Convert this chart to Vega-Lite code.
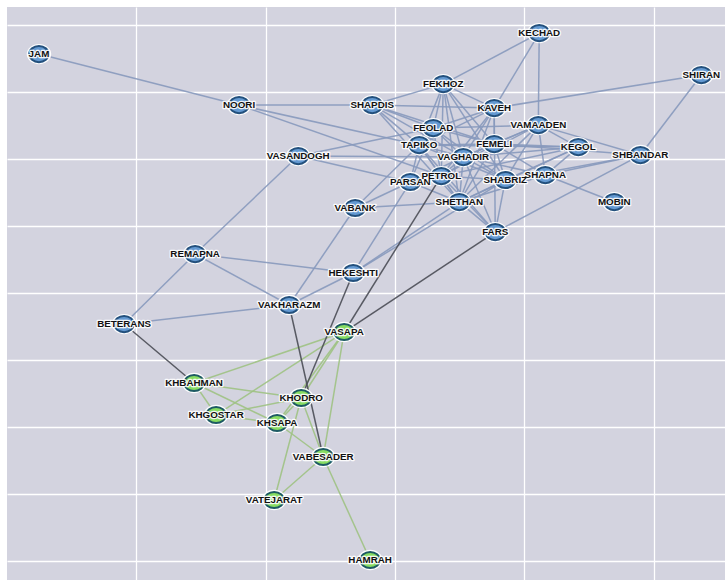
{
  "$schema": "https://vega.github.io/schema/vega-lite/v6.json",
  "width": 718,
  "height": 573,
  "autosize": "none",
  "padding": {"left": 7, "top": 7, "right": 0, "bottom": 0},
  "background": "white",
  "view": {"fill": "#d3d3df", "stroke": null},
  "datasets": {
    "nodes": [
      {"name": "JAM", "x": 0.247, "y": 7.567, "group": "A"},
      {"name": "NOORI", "x": 1.794, "y": 6.806, "group": "A"},
      {"name": "VASANDOGH", "x": 2.251, "y": 6.045, "group": "A"},
      {"name": "VABANK", "x": 2.691, "y": 5.269, "group": "A"},
      {"name": "REMAPNA", "x": 1.454, "y": 4.582, "group": "A"},
      {"name": "HEKESHTI", "x": 2.676, "y": 4.299, "group": "A"},
      {"name": "KECHAD", "x": 4.114, "y": 7.881, "group": "A"},
      {"name": "SHIRAN", "x": 5.367, "y": 7.254, "group": "A"},
      {"name": "FEKHOZ", "x": 3.372, "y": 7.119, "group": "A"},
      {"name": "SHAPDIS", "x": 2.823, "y": 6.806, "group": "A"},
      {"name": "KAVEH", "x": 3.766, "y": 6.761, "group": "A"},
      {"name": "FEOLAD", "x": 3.295, "y": 6.463, "group": "A"},
      {"name": "VAMAADEN", "x": 4.107, "y": 6.507, "group": "A"},
      {"name": "TAPIKO", "x": 3.186, "y": 6.209, "group": "A"},
      {"name": "FEMELI", "x": 3.766, "y": 6.224, "group": "A"},
      {"name": "KEGOL", "x": 4.416, "y": 6.179, "group": "A"},
      {"name": "SHBANDAR", "x": 4.896, "y": 6.06, "group": "A"},
      {"name": "VAGHADIR", "x": 3.527, "y": 6.03, "group": "A"},
      {"name": "PETROL", "x": 3.357, "y": 5.746, "group": "A"},
      {"name": "SHABRIZ", "x": 3.852, "y": 5.687, "group": "A"},
      {"name": "SHAPNA", "x": 4.161, "y": 5.761, "group": "A"},
      {"name": "PARSAN", "x": 3.117, "y": 5.657, "group": "A"},
      {"name": "MOBIN", "x": 4.694, "y": 5.358, "group": "A"},
      {"name": "SHETHAN", "x": 3.496, "y": 5.358, "group": "A"},
      {"name": "FARS", "x": 3.774, "y": 4.91, "group": "A"},
      {"name": "VAKHARAZM", "x": 2.181, "y": 3.821, "group": "A"},
      {"name": "BETERANS", "x": 0.905, "y": 3.537, "group": "A"},
      {"name": "VASAPA", "x": 2.606, "y": 3.418, "group": "B"},
      {"name": "KHBAHMAN", "x": 1.446, "y": 2.657, "group": "B"},
      {"name": "KHODRO", "x": 2.274, "y": 2.433, "group": "B"},
      {"name": "KHGOSTAR", "x": 1.616, "y": 2.179, "group": "B"},
      {"name": "KHSAPA", "x": 2.088, "y": 2.06, "group": "B"},
      {"name": "VABESADER", "x": 2.444, "y": 1.552, "group": "B"},
      {"name": "VATEJARAT", "x": 2.065, "y": 0.91, "group": "B"},
      {"name": "HAMRAH", "x": 2.807, "y": 0.015, "group": "B"}
    ],
    "edges": [
      {"s": "JAM", "t": "NOORI", "kind": "A"},
      {"s": "NOORI", "t": "SHAPDIS", "kind": "A"},
      {"s": "NOORI", "t": "TAPIKO", "kind": "A"},
      {"s": "NOORI", "t": "PETROL", "kind": "A"},
      {"s": "VASANDOGH", "t": "FEOLAD", "kind": "A"},
      {"s": "VASANDOGH", "t": "VAGHADIR", "kind": "A"},
      {"s": "VASANDOGH", "t": "PARSAN", "kind": "A"},
      {"s": "VASANDOGH", "t": "REMAPNA", "kind": "A"},
      {"s": "REMAPNA", "t": "HEKESHTI", "kind": "A"},
      {"s": "REMAPNA", "t": "VAKHARAZM", "kind": "A"},
      {"s": "REMAPNA", "t": "BETERANS", "kind": "A"},
      {"s": "BETERANS", "t": "VAKHARAZM", "kind": "A"},
      {"s": "VAKHARAZM", "t": "VABANK", "kind": "A"},
      {"s": "VAKHARAZM", "t": "HEKESHTI", "kind": "A"},
      {"s": "VABANK", "t": "PARSAN", "kind": "A"},
      {"s": "VABANK", "t": "SHETHAN", "kind": "A"},
      {"s": "VABANK", "t": "TAPIKO", "kind": "A"},
      {"s": "HEKESHTI", "t": "PARSAN", "kind": "A"},
      {"s": "HEKESHTI", "t": "SHETHAN", "kind": "A"},
      {"s": "HEKESHTI", "t": "SHABRIZ", "kind": "A"},
      {"s": "KECHAD", "t": "FEKHOZ", "kind": "A"},
      {"s": "KECHAD", "t": "KAVEH", "kind": "A"},
      {"s": "KECHAD", "t": "VAMAADEN", "kind": "A"},
      {"s": "SHIRAN", "t": "KAVEH", "kind": "A"},
      {"s": "SHIRAN", "t": "SHBANDAR", "kind": "A"},
      {"s": "SHAPDIS", "t": "FEKHOZ", "kind": "A"},
      {"s": "SHAPDIS", "t": "KAVEH", "kind": "A"},
      {"s": "SHAPDIS", "t": "FEOLAD", "kind": "A"},
      {"s": "SHAPDIS", "t": "TAPIKO", "kind": "A"},
      {"s": "SHAPDIS", "t": "VAGHADIR", "kind": "A"},
      {"s": "SHAPDIS", "t": "FEMELI", "kind": "A"},
      {"s": "SHAPDIS", "t": "SHETHAN", "kind": "A"},
      {"s": "FEKHOZ", "t": "KAVEH", "kind": "A"},
      {"s": "FEKHOZ", "t": "FEOLAD", "kind": "A"},
      {"s": "FEKHOZ", "t": "TAPIKO", "kind": "A"},
      {"s": "FEKHOZ", "t": "VAGHADIR", "kind": "A"},
      {"s": "FEKHOZ", "t": "PETROL", "kind": "A"},
      {"s": "FEKHOZ", "t": "FEMELI", "kind": "A"},
      {"s": "FEKHOZ", "t": "SHETHAN", "kind": "A"},
      {"s": "FEKHOZ", "t": "SHABRIZ", "kind": "A"},
      {"s": "KAVEH", "t": "FEOLAD", "kind": "A"},
      {"s": "KAVEH", "t": "TAPIKO", "kind": "A"},
      {"s": "KAVEH", "t": "VAGHADIR", "kind": "A"},
      {"s": "KAVEH", "t": "FEMELI", "kind": "A"},
      {"s": "KAVEH", "t": "PETROL", "kind": "A"},
      {"s": "KAVEH", "t": "SHETHAN", "kind": "A"},
      {"s": "KAVEH", "t": "FARS", "kind": "A"},
      {"s": "FEOLAD", "t": "TAPIKO", "kind": "A"},
      {"s": "FEOLAD", "t": "VAGHADIR", "kind": "A"},
      {"s": "FEOLAD", "t": "FEMELI", "kind": "A"},
      {"s": "FEOLAD", "t": "PETROL", "kind": "A"},
      {"s": "FEOLAD", "t": "SHABRIZ", "kind": "A"},
      {"s": "FEOLAD", "t": "VAMAADEN", "kind": "A"},
      {"s": "FEOLAD", "t": "PARSAN", "kind": "A"},
      {"s": "TAPIKO", "t": "VAGHADIR", "kind": "A"},
      {"s": "TAPIKO", "t": "PETROL", "kind": "A"},
      {"s": "TAPIKO", "t": "PARSAN", "kind": "A"},
      {"s": "TAPIKO", "t": "SHETHAN", "kind": "A"},
      {"s": "TAPIKO", "t": "FEMELI", "kind": "A"},
      {"s": "TAPIKO", "t": "KEGOL", "kind": "A"},
      {"s": "TAPIKO", "t": "SHABRIZ", "kind": "A"},
      {"s": "VAGHADIR", "t": "FEMELI", "kind": "A"},
      {"s": "VAGHADIR", "t": "PETROL", "kind": "A"},
      {"s": "VAGHADIR", "t": "SHABRIZ", "kind": "A"},
      {"s": "VAGHADIR", "t": "SHETHAN", "kind": "A"},
      {"s": "VAGHADIR", "t": "SHAPNA", "kind": "A"},
      {"s": "VAGHADIR", "t": "KEGOL", "kind": "A"},
      {"s": "VAGHADIR", "t": "FARS", "kind": "A"},
      {"s": "VAGHADIR", "t": "VAMAADEN", "kind": "A"},
      {"s": "VAGHADIR", "t": "PARSAN", "kind": "A"},
      {"s": "FEMELI", "t": "VAMAADEN", "kind": "A"},
      {"s": "FEMELI", "t": "KEGOL", "kind": "A"},
      {"s": "FEMELI", "t": "SHABRIZ", "kind": "A"},
      {"s": "FEMELI", "t": "PETROL", "kind": "A"},
      {"s": "FEMELI", "t": "SHETHAN", "kind": "A"},
      {"s": "FEMELI", "t": "SHAPNA", "kind": "A"},
      {"s": "VAMAADEN", "t": "KEGOL", "kind": "A"},
      {"s": "VAMAADEN", "t": "SHBANDAR", "kind": "A"},
      {"s": "VAMAADEN", "t": "SHAPNA", "kind": "A"},
      {"s": "VAMAADEN", "t": "SHABRIZ", "kind": "A"},
      {"s": "VAMAADEN", "t": "SHETHAN", "kind": "A"},
      {"s": "VAMAADEN", "t": "PETROL", "kind": "A"},
      {"s": "KEGOL", "t": "SHAPNA", "kind": "A"},
      {"s": "KEGOL", "t": "SHABRIZ", "kind": "A"},
      {"s": "KEGOL", "t": "SHETHAN", "kind": "A"},
      {"s": "KEGOL", "t": "PETROL", "kind": "A"},
      {"s": "SHBANDAR", "t": "SHAPNA", "kind": "A"},
      {"s": "SHBANDAR", "t": "SHABRIZ", "kind": "A"},
      {"s": "SHBANDAR", "t": "FARS", "kind": "A"},
      {"s": "SHBANDAR", "t": "FEMELI", "kind": "A"},
      {"s": "SHAPNA", "t": "MOBIN", "kind": "A"},
      {"s": "SHAPNA", "t": "SHABRIZ", "kind": "A"},
      {"s": "SHAPNA", "t": "SHETHAN", "kind": "A"},
      {"s": "PETROL", "t": "SHABRIZ", "kind": "A"},
      {"s": "PETROL", "t": "SHETHAN", "kind": "A"},
      {"s": "PETROL", "t": "PARSAN", "kind": "A"},
      {"s": "PETROL", "t": "FARS", "kind": "A"},
      {"s": "SHABRIZ", "t": "SHETHAN", "kind": "A"},
      {"s": "SHABRIZ", "t": "FARS", "kind": "A"},
      {"s": "PARSAN", "t": "SHETHAN", "kind": "A"},
      {"s": "SHETHAN", "t": "FARS", "kind": "A"},
      {"s": "TAPIKO", "t": "FARS", "kind": "A"},
      {"s": "VASAPA", "t": "KHBAHMAN", "kind": "B"},
      {"s": "VASAPA", "t": "KHGOSTAR", "kind": "B"},
      {"s": "VASAPA", "t": "KHODRO", "kind": "B"},
      {"s": "VASAPA", "t": "KHSAPA", "kind": "B"},
      {"s": "VASAPA", "t": "VABESADER", "kind": "B"},
      {"s": "KHBAHMAN", "t": "KHODRO", "kind": "B"},
      {"s": "KHBAHMAN", "t": "KHSAPA", "kind": "B"},
      {"s": "KHBAHMAN", "t": "KHGOSTAR", "kind": "B"},
      {"s": "KHGOSTAR", "t": "KHODRO", "kind": "B"},
      {"s": "KHGOSTAR", "t": "KHSAPA", "kind": "B"},
      {"s": "KHSAPA", "t": "KHODRO", "kind": "B"},
      {"s": "KHSAPA", "t": "VABESADER", "kind": "B"},
      {"s": "KHODRO", "t": "VABESADER", "kind": "B"},
      {"s": "KHODRO", "t": "VATEJARAT", "kind": "B"},
      {"s": "VABESADER", "t": "VATEJARAT", "kind": "B"},
      {"s": "VABESADER", "t": "HAMRAH", "kind": "B"},
      {"s": "BETERANS", "t": "KHBAHMAN", "kind": "cross"},
      {"s": "VAKHARAZM", "t": "VABESADER", "kind": "cross"},
      {"s": "HEKESHTI", "t": "KHODRO", "kind": "cross"},
      {"s": "PETROL", "t": "VASAPA", "kind": "cross"},
      {"s": "FARS", "t": "VASAPA", "kind": "cross"}
    ]
  },
  "layer": [
    {
      "data": {"name": "edges"},
      "transform": [
        {"lookup": "s", "from": {"data": {"name": "nodes"}, "key": "name", "fields": ["x", "y"]}, "as": ["sx", "sy"]},
        {"lookup": "t", "from": {"data": {"name": "nodes"}, "key": "name", "fields": ["x", "y"]}, "as": ["tx", "ty"]}
      ],
      "mark": {"type": "rule", "strokeWidth": 1.5, "opacity": 0.9},
      "encoding": {
        "x": {"field": "sx", "type": "quantitative", "scale": {"domain": [0, 5.55], "nice": false, "zero": false},
          "axis": {"values": [1, 2, 3, 4, 5], "grid": true, "gridColor": "white", "gridWidth": 1.3, "gridOpacity": 1, "labels": false, "ticks": false, "domain": false, "title": null}},
        "y": {"field": "sy", "type": "quantitative", "scale": {"domain": [-0.284, 8.27], "nice": false, "zero": false},
          "axis": {"values": [0, 1, 2, 3, 4, 5, 6, 7, 8], "grid": true, "gridColor": "white", "gridWidth": 1.3, "gridOpacity": 1, "labels": false, "ticks": false, "domain": false, "title": null}},
        "x2": {"field": "tx"},
        "y2": {"field": "ty"},
        "color": {"field": "kind", "type": "nominal", "scale": {"domain": ["A", "B", "cross"], "range": ["#8799bd", "#9fc283", "#4a4c55"]}, "legend": null}
      }
    },
    {
      "data": {"name": "nodes"},
      "mark": {"type": "point", "filled": true, "shape": "M -1 0 A 1 0.83 0 1 0 1 0 A 1 0.83 0 1 0 -1 0 Z", "size": 600, "color": "white", "opacity": 0.95},
      "encoding": {
        "x": {"field": "x", "type": "quantitative", "scale": {"domain": [0, 5.55], "nice": false, "zero": false},
          "axis": {"values": [1, 2, 3, 4, 5], "grid": true, "gridColor": "white", "gridWidth": 1.3, "gridOpacity": 1, "labels": false, "ticks": false, "domain": false, "title": null}},
        "y": {"field": "y", "type": "quantitative", "scale": {"domain": [-0.284, 8.27], "nice": false, "zero": false},
          "axis": {"values": [0, 1, 2, 3, 4, 5, 6, 7, 8], "grid": true, "gridColor": "white", "gridWidth": 1.3, "gridOpacity": 1, "labels": false, "ticks": false, "domain": false, "title": null}}
      }
    },
    {
      "data": {"name": "nodes"},
      "mark": {"type": "point", "filled": true, "shape": "M -1 0 A 1 0.83 0 1 0 1 0 A 1 0.83 0 1 0 -1 0 Z", "size": 380, "strokeWidth": 2, "opacity": 1},
      "encoding": {
        "x": {"field": "x", "type": "quantitative", "scale": {"domain": [0, 5.55], "nice": false, "zero": false},
          "axis": {"values": [1, 2, 3, 4, 5], "grid": true, "gridColor": "white", "gridWidth": 1.3, "gridOpacity": 1, "labels": false, "ticks": false, "domain": false, "title": null}},
        "y": {"field": "y", "type": "quantitative", "scale": {"domain": [-0.284, 8.27], "nice": false, "zero": false},
          "axis": {"values": [0, 1, 2, 3, 4, 5, 6, 7, 8], "grid": true, "gridColor": "white", "gridWidth": 1.3, "gridOpacity": 1, "labels": false, "ticks": false, "domain": false, "title": null}},
        "fill": {"field": "group", "type": "nominal", "scale": {"domain": ["A", "B"], "range": ["#6399d2", "#86dc62"]}, "legend": null},
        "stroke": {"field": "group", "type": "nominal", "scale": {"domain": ["A", "B"], "range": ["#23507d", "#1d5a63"]}, "legend": null}
      }
    },
    {
      "data": {"name": "nodes"},
      "mark": {"type": "text", "font": "Liberation Sans", "fontWeight": "bold", "fontSize": 9.8, "align": "center", "baseline": "middle", "stroke": "white", "strokeWidth": 2.6, "strokeJoin": "round", "fill": "white", "opacity": 0.9},
      "encoding": {
        "x": {"field": "x", "type": "quantitative", "scale": {"domain": [0, 5.55], "nice": false, "zero": false},
          "axis": {"values": [1, 2, 3, 4, 5], "grid": true, "gridColor": "white", "gridWidth": 1.3, "gridOpacity": 1, "labels": false, "ticks": false, "domain": false, "title": null}},
        "y": {"field": "y", "type": "quantitative", "scale": {"domain": [-0.284, 8.27], "nice": false, "zero": false},
          "axis": {"values": [0, 1, 2, 3, 4, 5, 6, 7, 8], "grid": true, "gridColor": "white", "gridWidth": 1.3, "gridOpacity": 1, "labels": false, "ticks": false, "domain": false, "title": null}},
        "text": {"field": "name", "type": "nominal"}
      }
    },
    {
      "data": {"name": "nodes"},
      "mark": {"type": "text", "font": "Liberation Sans", "fontWeight": "bold", "fontSize": 9.8, "align": "center", "baseline": "middle", "fill": "#111111"},
      "encoding": {
        "x": {"field": "x", "type": "quantitative", "scale": {"domain": [0, 5.55], "nice": false, "zero": false},
          "axis": {"values": [1, 2, 3, 4, 5], "grid": true, "gridColor": "white", "gridWidth": 1.3, "gridOpacity": 1, "labels": false, "ticks": false, "domain": false, "title": null}},
        "y": {"field": "y", "type": "quantitative", "scale": {"domain": [-0.284, 8.27], "nice": false, "zero": false},
          "axis": {"values": [0, 1, 2, 3, 4, 5, 6, 7, 8], "grid": true, "gridColor": "white", "gridWidth": 1.3, "gridOpacity": 1, "labels": false, "ticks": false, "domain": false, "title": null}},
        "text": {"field": "name", "type": "nominal"}
      }
    }
  ]
}
